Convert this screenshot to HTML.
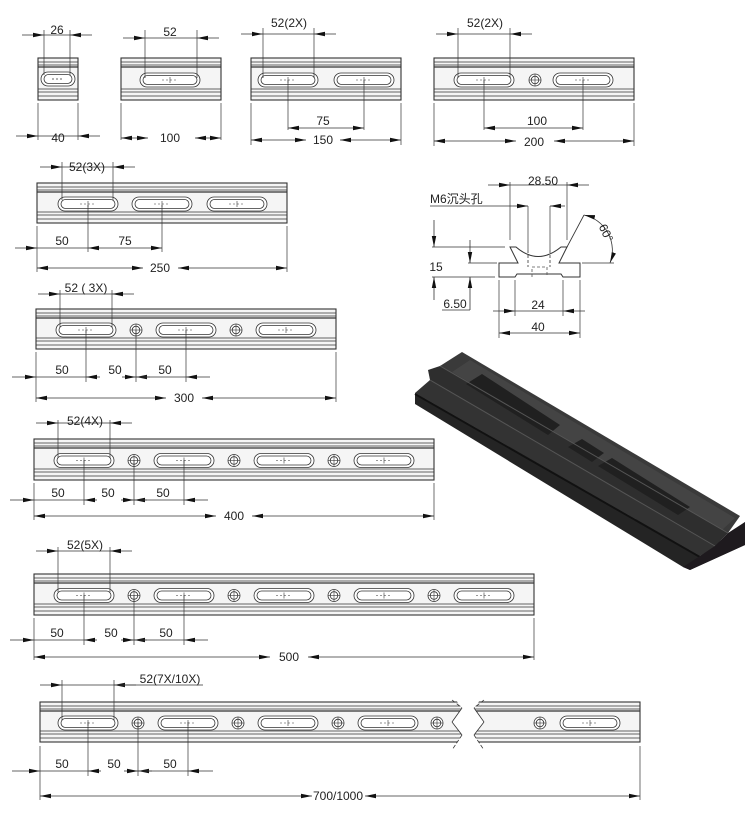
<!DOCTYPE html>
<html><head><meta charset="utf-8"><style>
html,body{margin:0;padding:0;background:#fff;}
svg{display:block;}
text{font-family:"Liberation Sans","Noto Sans CJK SC",sans-serif;font-size:12px;fill:#222;}
</style></head><body>
<svg id="s" width="750" height="816" viewBox="0 0 750 816" xmlns="http://www.w3.org/2000/svg">
<defs>
<marker id="a" markerWidth="12" markerHeight="6" refX="11" refY="3" orient="auto-start-reverse" markerUnits="userSpaceOnUse"><path d="M0,0.8 L11,3 L0,5.2 Z" fill="#111"/></marker>
</defs>
<g id="g" stroke="#333" stroke-width="0.8" fill="none"></g>
<!-- 3D render -->
<g>
<polygon points="415,393 415,404 683,567 690,570 745,545 745,522 700,556" fill="#242424"/>
<polygon points="415,393 430,380 715,546 700,556" fill="#333"/>
<polygon points="430,380 428,370 440,366 728,533 715,546" fill="#2e2e2e"/>
<polygon points="440,366 462,352 740,516 728,533" fill="#3a3a3a"/>
<polygon points="452,372 470,360 735,518 722,530" fill="#444"/>
<polygon points="466,384 482,374 560,425 548,435" fill="#202020"/>
<polygon points="568,447 582,439 604,453 592,462" fill="#202020"/>
<polygon points="598,466 612,458 690,507 678,515" fill="#202020"/>
<line x1="430" y1="380" x2="715" y2="546" stroke="#555" stroke-width="1"/>
<line x1="440" y1="366" x2="728" y2="533" stroke="#555" stroke-width="1"/>
<line x1="415" y1="394" x2="700" y2="557" stroke="#111" stroke-width="2"/>
<polygon points="683,567 700,556 715,546 728,533 745,522 745,545 690,570" fill="#1e1a1e"/>
</g>
<g>
<text x="57" y="34" text-anchor="middle">26</text>
<text x="58" y="142" text-anchor="middle">40</text>
<text x="170" y="36" text-anchor="middle">52</text>
<text x="170" y="142" text-anchor="middle">100</text>
<text x="289" y="27" text-anchor="middle">52(2X)</text>
<text x="323" y="125" text-anchor="middle">75</text>
<text x="323" y="144" text-anchor="middle">150</text>
<text x="485" y="27" text-anchor="middle">52(2X)</text>
<text x="537" y="125" text-anchor="middle">100</text>
<text x="534" y="146" text-anchor="middle">200</text>
<text x="87" y="171" text-anchor="middle">52(3X)</text>
<text x="62" y="245" text-anchor="middle">50</text>
<text x="125" y="245" text-anchor="middle">75</text>
<text x="160" y="272" text-anchor="middle">250</text>
<text x="86" y="292" text-anchor="middle">52 ( 3X)</text>
<text x="62" y="374" text-anchor="middle">50</text>
<text x="115" y="374" text-anchor="middle">50</text>
<text x="165" y="374" text-anchor="middle">50</text>
<text x="184" y="402" text-anchor="middle">300</text>
<text x="85" y="425" text-anchor="middle">52(4X)</text>
<text x="58" y="497" text-anchor="middle">50</text>
<text x="108" y="497" text-anchor="middle">50</text>
<text x="163" y="497" text-anchor="middle">50</text>
<text x="234" y="520" text-anchor="middle">400</text>
<text x="85" y="549" text-anchor="middle">52(5X)</text>
<text x="57" y="637" text-anchor="middle">50</text>
<text x="111" y="637" text-anchor="middle">50</text>
<text x="166" y="637" text-anchor="middle">50</text>
<text x="289" y="661" text-anchor="middle">500</text>
<text x="170" y="683" text-anchor="middle">52(7X/10X)</text>
<text x="62" y="768" text-anchor="middle">50</text>
<text x="114" y="768" text-anchor="middle">50</text>
<text x="170" y="768" text-anchor="middle">50</text>
<text x="338" y="800" text-anchor="middle">700/1000</text>
<text x="543" y="185" text-anchor="middle">28.50</text>
<text x="430" y="203">M6沉头孔</text>
<text x="436" y="271" text-anchor="middle">15</text>
<text x="455" y="308" text-anchor="middle">6.50</text>
<text x="538" y="309" text-anchor="middle">24</text>
<text x="538" y="331" text-anchor="middle">40</text>
<text x="606" y="237" text-anchor="middle" transform="rotate(65 606 233)">60°</text>
</g>
</svg>
<script>
var g=document.getElementById('g'),NS='http://www.w3.org/2000/svg';
function el(t,a){var e=document.createElementNS(NS,t);for(var k in a)e.setAttribute(k,a[k]);g.appendChild(e);return e;}
function L(x1,y1,x2,y2,o){var a={x1:x1,y1:y1,x2:x2,y2:y2};for(var k in o)a[k]=o[k];return el('line',a);}
function slot(cx,cy){el('rect',{x:cx-30,y:cy-7,width:60,height:14,rx:7,fill:'#fff'});el('rect',{x:cx-27,y:cy-4.5,width:54,height:9,rx:4.5});
 L(cx-8,cy,cx+8,cy,{'stroke-dasharray':'2 2','stroke-width':0.6});L(cx,cy-3,cx,cy+3,{'stroke-width':0.6});}
function hole(cx,cy){el('circle',{cx:cx,cy:cy,r:6,fill:'#fff'});el('circle',{cx:cx,cy:cy,r:3.8});L(cx-6,cy,cx+6,cy,{'stroke-width':0.6});L(cx,cy-6,cx,cy+6,{'stroke-width':0.6});}
function rail(x,y,w,h,sl,ho){el('rect',{x:x,y:y,width:w,height:h,fill:'#f5f5f5','stroke-width':1.1});
 [4,7,9].forEach(function(d){L(x,y+d,x+w,y+d,{'stroke-width':d==9?1.2:0.7});});
 [h-11,h-8,h-4].forEach(function(d){L(x,y+d,x+w,y+d,{'stroke-width':0.7});});
 var cy=y+h/2+1;sl.forEach(function(c){slot(c,cy);});ho.forEach(function(c){hole(c,cy);});}
function arr(x1,y,x2){L(x1,y,x2,y,{'marker-end':'url(#a)'});}
function out(x1,x2,y){arr(x1-22,y,x1);arr(x2+22,y,x2);L(x1,y,x2,y);}
function ins(x1,x2,y){L(x1,y,x2,y,{'marker-start':'url(#a)','marker-end':'url(#a)'});}
function ext(x,y1,y2){L(x,y1,x,y2,{'stroke-width':0.7});}
function hx(x1,x2,y){L(x1,y,x2,y,{'stroke-width':0.7});}
// rail1
rail(38,58,40,42,[],[]);el('rect',{x:41,y:72,width:34,height:14,rx:7,fill:'#fff'});el('rect',{x:44,y:74.5,width:28,height:9,rx:4.5});L(52,79,64,79,{'stroke-dasharray':'2 2'});
ext(44,30,75);ext(70,30,75);out(44,70,35);ext(38,103,140);ext(78,103,140);out(38,78,136);
// rail2
rail(121,58,100,42,[170],[]);ext(145,30,78);ext(197,30,78);out(145,197,38);ext(121,103,140);ext(221,103,140);ins(121,148,138);ins(221,195,138);
// rail3
rail(251,58,150,42,[288,364],[]);ext(263,28,78);ext(314,28,78);out(263,314,34);ext(288,80,130);ext(364,80,130);ins(288,364,128);
ext(251,103,145);ext(401,103,145);ins(251,306,140);ins(401,340,140);
// rail4
rail(434,58,200,42,[484,583],[535]);ext(458,28,78);ext(510,28,78);out(458,510,34);ext(484,80,130);ext(583,80,130);ins(484,583,128);
ext(434,103,146);ext(634,103,146);ins(434,516,141);ins(634,554,141);
// rail5
rail(37,183,250,40,[88,162,237],[]);ext(62,162,200);ext(113,162,200);out(62,113,167);
ext(37,226,272);ext(88,205,252);ext(162,205,252);arr(15,248,37);ins(88,162,248);L(37,248,88,248);
ext(287,226,272);ins(37,143,268);ins(287,178,268);
// rail6
rail(36,309,300,40,[86,186,286],[136,236]);ext(60,290,327);ext(112,290,327);out(60,112,294);
ext(36,352,402);ext(86,330,382);ext(136,330,382);ext(186,330,382);arr(12,377,36);L(36,377,86,377);arr(100,377,86);arr(122,377,136);arr(150,377,136);L(136,377,186,377);arr(210,377,186);
ext(336,352,402);ins(36,166,398);ins(336,202,398);
// rail7
rail(34,439,400,41,[84,184,284,384],[134,234,334]);ext(58,420,458);ext(110,420,458);out(58,110,423);
ext(34,483,520);ext(84,460,505);ext(134,460,505);ext(184,460,505);arr(10,500,34);L(34,500,84,500);arr(97,500,84);arr(121,500,134);arr(147,500,134);L(134,500,184,500);arr(208,500,184);
ext(434,483,520);ins(34,216,516);ins(434,252,516);
// rail8
rail(34,574,500,41,[84,184,284,384,484],[134,234,334,434]);ext(58,547,592);ext(110,547,592);out(58,110,551);
ext(34,618,660);ext(84,595,645);ext(134,595,645);ext(184,595,645);arr(10,640,34);L(34,640,84,640);arr(97,640,84);arr(121,640,134);arr(147,640,134);L(134,640,184,640);arr(208,640,184);
ext(534,618,660);ins(34,270,657);ins(534,308,657);
// rail9
rail(40,702,600,40,[88,188,288,388,590],[138,238,338,437,540]);
el('polygon',{points:'452,695 462,708 452,722 462,735 452,750 484,750 474,735 484,722 474,708 484,695',fill:'#fff',stroke:'none'});
L(452,700,462,708,{'stroke-dasharray':'4 2'});L(462,708,452,722);L(452,722,462,735);L(462,735,452,750,{'stroke-dasharray':'4 2'});
L(484,700,474,708,{'stroke-dasharray':'4 2'});L(474,708,484,722);L(484,722,474,735);L(474,735,484,750,{'stroke-dasharray':'4 2'});
ext(62,680,720);ext(114,680,720);out(62,114,685);L(114,685,203,685);
ext(40,746,800);ext(88,722,776);ext(138,722,776);ext(188,722,776);arr(12,771,40);L(40,771,88,771);arr(101,771,88);arr(124,771,138);arr(152,771,138);L(138,771,188,771);arr(213,771,188);
ext(640,746,800);ins(40,312,796);ins(640,365,796);
// profile
el('path',{d:'M499,263 L518,263 L510,247 L516,247 Q538,266 561,247 L567,247 L559,263 L580,263 L580,277 L563,277 L561,274 L517,274 L515,277 L499,277 Z',fill:'#fff','stroke-width':1});
el('path',{d:'M532,277 L532,267 L547,267 L547,277',stroke:'#555','stroke-dasharray':'3 2'});
L(528,250,528,267,{'stroke-dasharray':'3 2'});L(550,250,550,267,{'stroke-dasharray':'3 2'});
ext(510,182,240);ext(567,182,240);out(510,567,185);
L(430,206,513,206);arr(513,206,528);arr(565,206,550);ext(528,206,250);ext(550,206,250);
hx(432,505,247);hx(432,495,277);L(434,220,434,247,{'marker-end':'url(#a)'});L(434,300,434,277,{'marker-end':'url(#a)'});
hx(468,497,263);L(470,240,470,263,{'marker-end':'url(#a)'});L(470,310,470,277,{'marker-end':'url(#a)'});L(442,310,470,310);
ext(515,280,316);ext(563,280,316);out(515,563,311);ext(499,280,338);ext(580,280,338);ins(499,580,333);
L(567,247,584,215);L(582,263,614,263);
el('path',{d:'M584,215 A36,36 0 0 1 610,263','marker-start':'url(#a)','marker-end':'url(#a)'});
</script>
</body></html>
